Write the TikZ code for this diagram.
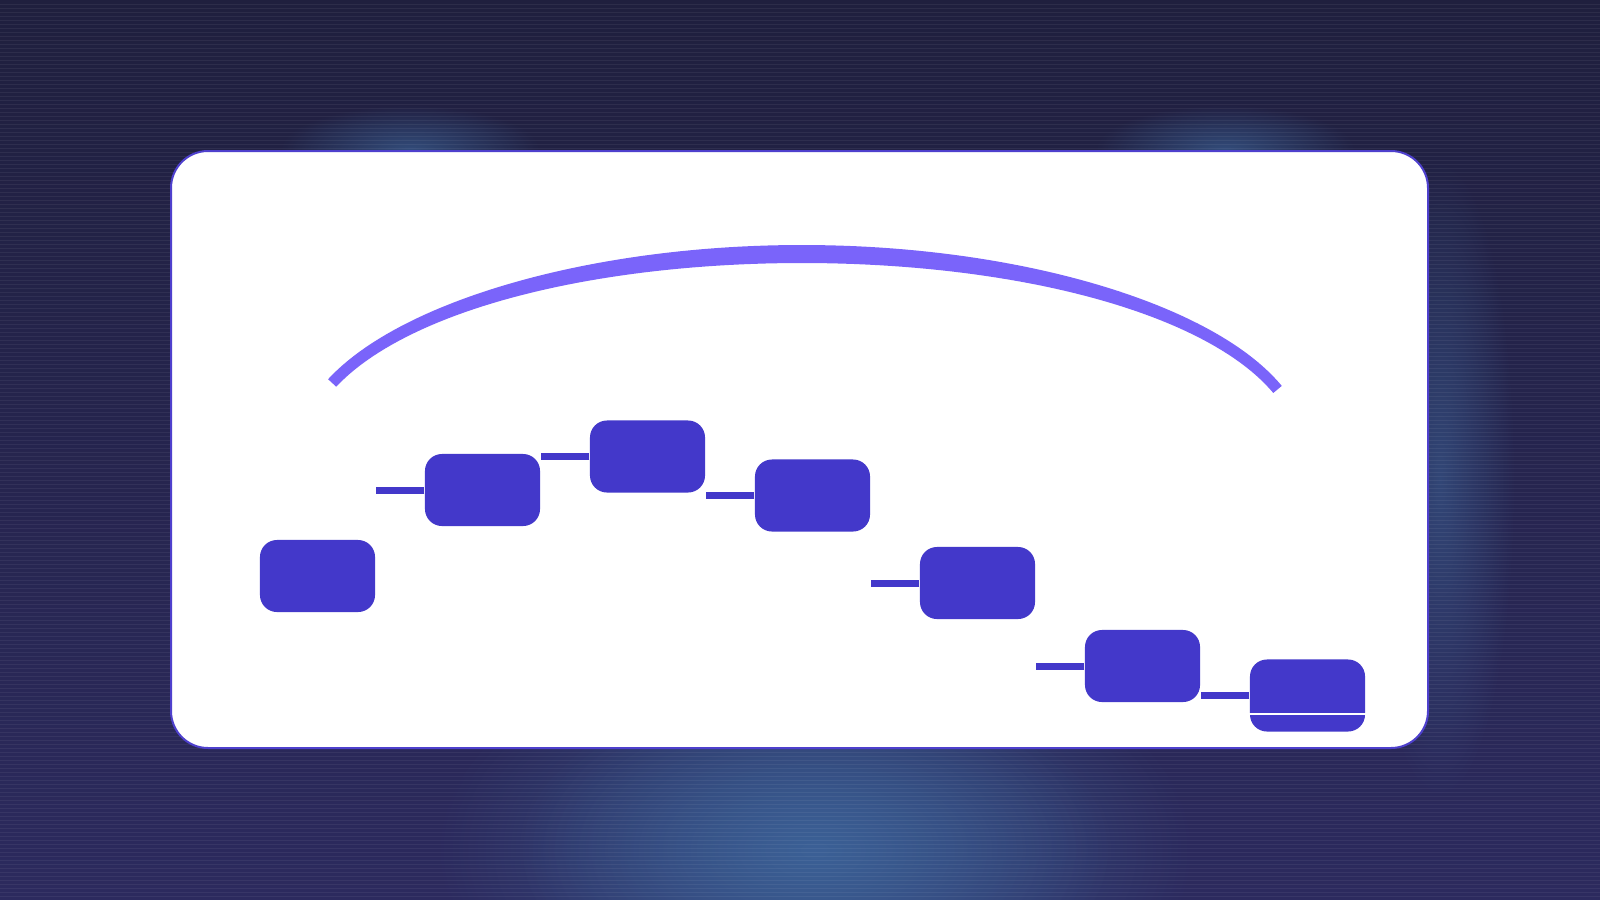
\documentclass[tikz,border=0pt]{standalone}
\usetikzlibrary{fadings}
\tikzfading[name=glowfade, inner color=transparent!0, outer color=transparent!100]
\definecolor{bgtop}{RGB}{31,31,62}
\definecolor{bgbot}{RGB}{44,42,94}
\definecolor{glow}{RGB}{62,104,158}
\definecolor{boxcol}{RGB}{67,56,202}
\definecolor{cardedge}{RGB}{78,64,205}
\definecolor{arccol}{RGB}{122,100,250}
\tikzset{
  stepbox/.style={draw=none, fill=boxcol, rounded corners=0.17cm, minimum width=1.15cm, minimum height=0.72cm, inner sep=0pt},
  stub/.style={draw=boxcol, line width=0.07cm},
  card/.style={fill=white, draw=cardedge, line width=0.02cm, rounded corners=0.37cm},
  declare function={nn(\t)=sqrt((1.96*cos(\t))^2+(5*sin(\t))^2); hh(\t)=5.5+3.5*(sin(\t))^4;},
}
\begin{document}
\begin{tikzpicture}[x=0.01cm, y=-0.01cm]
\useasboundingbox (0,0) rectangle (1600,900);
% background
\shade[top color=bgtop, bottom color=bgbot] (0,0) rectangle (1600,900);
\fill[glow, opacity=0.7, path fading=glowfade] (815,850) ellipse (380 and 220);
\fill[glow, opacity=0.6, path fading=glowfade] (815,850) ellipse (300 and 170);
\fill[glow, opacity=0.5, path fading=glowfade] (1440,480) ellipse (75 and 320);
\fill[glow, opacity=0.6, path fading=glowfade] (410,150) ellipse (130 and 45);
\fill[glow, opacity=0.6, path fading=glowfade] (1225,150) ellipse (130 and 45);
\foreach \i in {0,4,...,900} {
  \draw[white, opacity=0.06, line width=0.01cm] (0,\i) -- (1600,\i);
}
% card
\path[card] (171,151) rectangle (1428,748);
% arc (band with perpendicular ends, thicker at the top)
\fill[arccol]
  plot[domain=160:18, samples=100]
    ({802+500*cos(\x)+hh(\x)*1.96*cos(\x)/nn(\x)}, {450-196*sin(\x)-hh(\x)*5*sin(\x)/nn(\x)})
  -- plot[domain=18:160, samples=100]
    ({802+500*cos(\x)-hh(\x)*1.96*cos(\x)/nn(\x)}, {450-196*sin(\x)+hh(\x)*5*sin(\x)/nn(\x)})
  -- cycle;
% boxes
\node[stepbox] (b1) at (317.5,576) {};
\node[stepbox] (b2) at (482.5,490) {};
\node[stepbox] (b3) at (647.5,456.5) {};
\node[stepbox] (b4) at (812.5,495.5) {};
\node[stepbox] (b5) at (977.5,583) {};
\node[stepbox] (b6) at (1142.5,666) {};
\node[stepbox] (b7) at (1307.5,695.5) {};
% connectors
\draw[stub] (b2.west) -- (b2.west -| b1.east);
\draw[stub] (b3.west) -- (b3.west -| b2.east);
\draw[stub] (b4.west) -- (b4.west -| b3.east);
\draw[stub] (b5.west) -- (b5.west -| b4.east);
\draw[stub] (b6.west) -- (b6.west -| b5.east);
\draw[stub] (b7.west) -- (b7.west -| b6.east);
% white line across last box
\coordinate (wl) at (0,714);
\draw[white, line width=0.017cm] (wl -| b7.west) -- (wl -| b7.east);
\end{tikzpicture}
\end{document}
